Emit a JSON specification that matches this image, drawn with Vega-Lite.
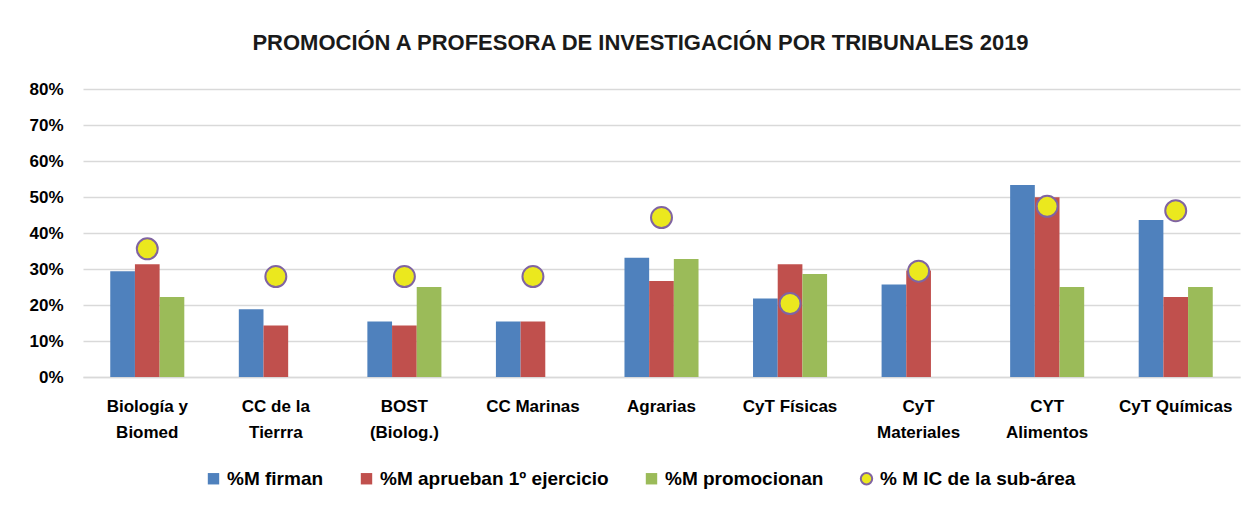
{
  "$schema": "https://vega.github.io/schema/vega-lite/v6.json",
  "width": 1157,
  "height": 288,
  "autosize": {"type": "none"},
  "padding": {"left": 83, "top": 89, "right": 12, "bottom": 131},
  "background": "white",
  "title": {
    "text": "PROMOCIÓN A PROFESORA DE INVESTIGACIÓN POR TRIBUNALES 2019",
    "font": "Liberation Sans",
    "fontSize": 22,
    "fontWeight": "bold",
    "color": "#1a1a1a",
    "anchor": "middle",
    "dx": -21,
    "offset": 25
  },
  "data": {
    "values": [
      {"category": "Biología y Biomed", "series": "%M firman", "value": 0.294},
      {"category": "Biología y Biomed", "series": "%M aprueban 1º ejercicio", "value": 0.313},
      {"category": "Biología y Biomed", "series": "%M promocionan", "value": 0.222},
      {"category": "Biología y Biomed", "series": "% M IC de la sub-área", "value": 0.356},
      {"category": "CC de la Tierrra", "series": "%M firman", "value": 0.188},
      {"category": "CC de la Tierrra", "series": "%M aprueban 1º ejercicio", "value": 0.143},
      {"category": "CC de la Tierrra", "series": "% M IC de la sub-área", "value": 0.279},
      {"category": "BOST (Biolog.)", "series": "%M firman", "value": 0.154},
      {"category": "BOST (Biolog.)", "series": "%M aprueban 1º ejercicio", "value": 0.143},
      {"category": "BOST (Biolog.)", "series": "%M promocionan", "value": 0.25},
      {"category": "BOST (Biolog.)", "series": "% M IC de la sub-área", "value": 0.279},
      {"category": "CC Marinas", "series": "%M firman", "value": 0.154},
      {"category": "CC Marinas", "series": "%M aprueban 1º ejercicio", "value": 0.154},
      {"category": "CC Marinas", "series": "% M IC de la sub-área", "value": 0.279},
      {"category": "Agrarias", "series": "%M firman", "value": 0.331},
      {"category": "Agrarias", "series": "%M aprueban 1º ejercicio", "value": 0.267},
      {"category": "Agrarias", "series": "%M promocionan", "value": 0.328},
      {"category": "Agrarias", "series": "% M IC de la sub-área", "value": 0.443},
      {"category": "CyT Físicas", "series": "%M firman", "value": 0.218},
      {"category": "CyT Físicas", "series": "%M aprueban 1º ejercicio", "value": 0.313},
      {"category": "CyT Físicas", "series": "%M promocionan", "value": 0.286},
      {"category": "CyT Físicas", "series": "% M IC de la sub-área", "value": 0.204},
      {"category": "CyT Materiales", "series": "%M firman", "value": 0.257},
      {"category": "CyT Materiales", "series": "%M aprueban 1º ejercicio", "value": 0.296},
      {"category": "CyT Materiales", "series": "% M IC de la sub-área", "value": 0.294},
      {"category": "CYT Alimentos", "series": "%M firman", "value": 0.533},
      {"category": "CYT Alimentos", "series": "%M aprueban 1º ejercicio", "value": 0.499},
      {"category": "CYT Alimentos", "series": "%M promocionan", "value": 0.25},
      {"category": "CYT Alimentos", "series": "% M IC de la sub-área", "value": 0.474},
      {"category": "CyT Químicas", "series": "%M firman", "value": 0.436},
      {"category": "CyT Químicas", "series": "%M aprueban 1º ejercicio", "value": 0.222},
      {"category": "CyT Químicas", "series": "%M promocionan", "value": 0.25},
      {"category": "CyT Químicas", "series": "% M IC de la sub-área", "value": 0.462}
    ]
  },
  "encoding": {
    "x": {
      "field": "category",
      "type": "nominal",
      "sort": null,
      "title": null,
      "scale": {"paddingInner": 0.424, "paddingOuter": 0.212},
      "axis": {
        "labelAngle": 0,
        "labelFont": "Liberation Sans",
        "labelFontSize": 17,
        "labelFontWeight": "bold",
        "labelColor": "#000000",
        "labelBaseline": "top",
        "labelLineHeight": 26,
        "labelPadding": 21,
        "labelLimit": 200,
        "ticks": false,
        "domainColor": "#d9d9d9",
        "domainWidth": 1.5,
        "labelExpr": "datum.value == 'Biología y Biomed' ? ['Biología y', 'Biomed'] : datum.value == 'CC de la Tierrra' ? ['CC de la', 'Tierrra'] : datum.value == 'BOST (Biolog.)' ? ['BOST', '(Biolog.)'] : datum.value == 'CyT Materiales' ? ['CyT', 'Materiales'] : datum.value == 'CYT Alimentos' ? ['CYT', 'Alimentos'] : datum.value"
      }
    },
    "y": {
      "field": "value",
      "type": "quantitative",
      "title": null,
      "scale": {"domain": [0, 0.8], "nice": false},
      "axis": {
        "values": [0, 0.1, 0.2, 0.3, 0.4, 0.5, 0.6, 0.7, 0.8],
        "format": ".0%",
        "labelFont": "Liberation Sans",
        "labelFontSize": 17,
        "labelFontWeight": "bold",
        "labelColor": "#000000",
        "labelPadding": 20,
        "ticks": false,
        "domain": false,
        "gridColor": "#d9d9d9",
        "gridWidth": 1.5
      }
    },
    "color": {
      "field": "series",
      "type": "nominal",
      "scale": {
        "domain": ["%M firman", "%M aprueban 1º ejercicio", "%M promocionan", "% M IC de la sub-área"],
        "range": ["#4f81bd", "#c0504d", "#9bbb59", "#ebe81e"]
      },
      "legend": {
        "title": null,
        "orient": "none",
        "legendX": 121,
        "legendY": 380,
        "direction": "horizontal",
        "columns": 4,
        "columnPadding": 32,
        "labelFont": "Liberation Sans",
        "labelFontSize": 19,
        "labelFontWeight": "bold",
        "labelColor": "#000000",
        "labelLimit": 300,
        "labelOffset": 4,
        "symbolSize": 130,
        "encode": {
          "symbols": {
            "update": {
              "shape": {"signal": "datum.value === '% M IC de la sub-área' ? 'circle' : 'square'"},
              "stroke": {"signal": "datum.value === '% M IC de la sub-área' ? '#8064a2' : 'transparent'"},
              "strokeWidth": {"value": 2}
            }
          }
        }
      }
    }
  },
  "layer": [
    {
      "transform": [{"filter": "datum.series !== '% M IC de la sub-área'"}],
      "mark": {"type": "bar"},
      "encoding": {
        "xOffset": {
          "field": "series",
          "type": "nominal",
          "scale": {"domain": ["%M firman", "%M aprueban 1º ejercicio", "%M promocionan"], "paddingInner": 0, "paddingOuter": 0}
        }
      }
    },
    {
      "transform": [{"filter": "datum.series === '% M IC de la sub-área'"}],
      "mark": {"type": "point", "shape": "circle", "filled": true, "size": 440, "stroke": "#8064a2", "strokeWidth": 2, "opacity": 1}
    }
  ],
  "config": {
    "view": {"stroke": null}
  }
}
